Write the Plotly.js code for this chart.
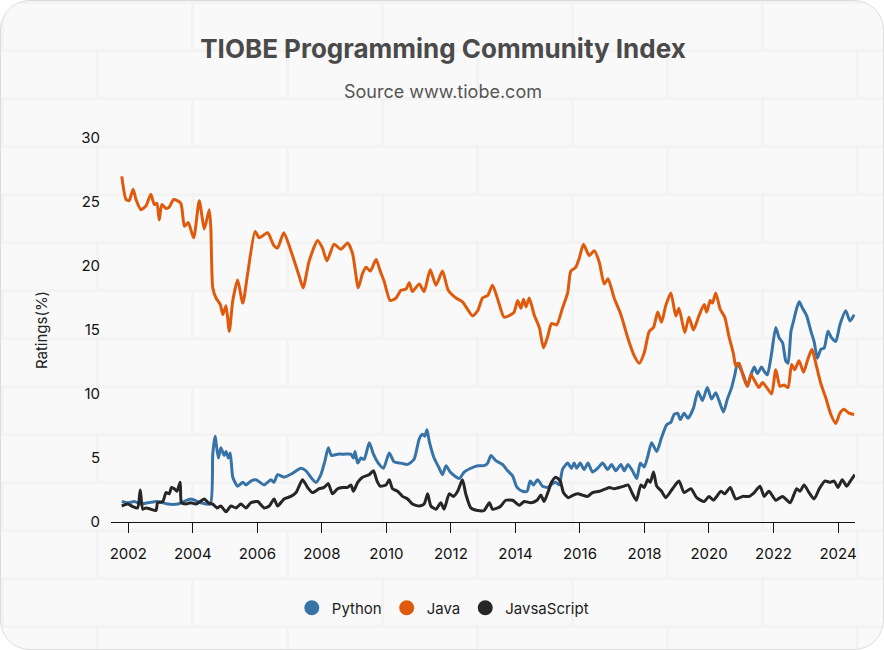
<!DOCTYPE html>
<html>
<head>
<meta charset="utf-8">
<script src="https://cdn.plot.ly/plotly-3.0.1.min.js"></script>
<style>
  html, body { margin: 0; padding: 0; background: #ffffff; }
  #card {
    position: absolute; left: 0; top: 0;
    width: 882px; height: 648px;
    border: 1px solid #dcdcdc;
    border-radius: 30px;
    overflow: hidden;
    background-color: #f9f9f9;
    background-image: url("data:image/svg+xml;utf8,<svg xmlns='http://www.w3.org/2000/svg' width='380' height='96'><g fill='none' stroke='%23f3f3f3' stroke-width='3'><path d='M0 1.5H380M0 49.5H380'/><path d='M1.5 0V48M191.5 0V48M96.5 48V96M286.5 48V96'/></g></svg>");
  }
  #graph { width: 884px; height: 650px; }
</style>
</head>
<body>
<div id="card"><div id="graph"></div></div>
<script>
// values, x as decimal years
var javaYears = [2001.80, 2001.93, 2002.03, 2002.15, 2002.24, 2002.39, 2002.55, 2002.70, 2002.81, 2002.89,
  2002.96, 2003.04, 2003.17, 2003.27, 2003.41, 2003.63, 2003.74, 2003.86, 2004.03, 2004.20,
  2004.36, 2004.51, 2004.56, 2004.62, 2004.72, 2004.85, 2004.93, 2005.03, 2005.13, 2005.24,
  2005.39, 2005.55, 2005.70, 2005.93, 2006.06, 2006.32, 2006.51, 2006.63, 2006.82, 2007.04,
  2007.30, 2007.42, 2007.61, 2007.87, 2008.02, 2008.16, 2008.38, 2008.59, 2008.80, 2008.95,
  2009.13, 2009.26, 2009.37, 2009.50, 2009.68, 2009.81, 2009.93, 2010.12, 2010.30, 2010.45,
  2010.61, 2010.71, 2010.81, 2011.02, 2011.17, 2011.36, 2011.54, 2011.74, 2011.92, 2012.16,
  2012.36, 2012.52, 2012.67, 2012.83, 2012.98, 2013.14, 2013.29, 2013.45, 2013.65, 2013.86,
  2013.96, 2014.07, 2014.17, 2014.25, 2014.33, 2014.43, 2014.58, 2014.74, 2014.87, 2015.00,
  2015.12, 2015.28, 2015.46, 2015.62, 2015.72, 2015.87, 2015.98, 2016.11, 2016.29, 2016.44,
  2016.60, 2016.75, 2016.87, 2017.06, 2017.27, 2017.48, 2017.68, 2017.84, 2017.99, 2018.15,
  2018.28, 2018.41, 2018.53, 2018.66, 2018.82, 2018.97, 2019.07, 2019.25, 2019.38, 2019.52,
  2019.69, 2019.85, 2019.93, 2020.04, 2020.11, 2020.21, 2020.35, 2020.49, 2020.62, 2020.76,
  2020.83, 2020.93, 2021.07, 2021.19, 2021.30, 2021.40, 2021.55, 2021.66, 2021.79, 2021.94,
  2022.07, 2022.20, 2022.33, 2022.45, 2022.56, 2022.66, 2022.79, 2022.93, 2023.05, 2023.19,
  2023.31, 2023.47, 2023.62, 2023.78, 2023.93, 2024.06, 2024.19, 2024.34, 2024.50];
var javaValues = [27.0, 25.2, 25.1, 26.0, 25.2, 24.4, 24.7, 25.6, 24.8, 24.9,
  23.6, 24.8, 24.5, 24.6, 25.2, 24.9, 23.1, 23.4, 22.2, 25.1,
  22.9, 24.4, 23.0, 18.3, 17.5, 17.0, 16.2, 16.9, 14.9, 17.3,
  18.9, 17.1, 19.4, 22.7, 22.2, 22.6, 21.6, 21.4, 22.6, 21.2,
  19.2, 18.3, 20.4, 22.0, 21.4, 20.4, 21.7, 21.3, 21.8, 21.0,
  18.3, 19.4, 19.9, 19.6, 20.5, 19.6, 18.8, 17.3, 17.5, 18.1,
  18.2, 18.7, 18.0, 18.6, 18.0, 19.7, 18.5, 19.6, 18.1, 17.5,
  17.2, 16.6, 16.1, 16.5, 17.5, 17.7, 18.5, 17.4, 16.0, 16.2,
  16.4, 17.3, 16.7, 17.4, 16.8, 17.5, 16.2, 15.2, 13.6, 14.5,
  15.5, 15.4, 16.7, 17.9, 19.6, 19.9, 20.6, 21.7, 20.8, 21.2,
  20.3, 18.6, 19.0, 17.5, 16.2, 14.4, 13.0, 12.4, 13.2, 14.9,
  15.2, 16.4, 15.6, 16.9, 17.9, 16.1, 16.7, 14.8, 16.0, 15.0,
  16.1, 17.0, 16.4, 17.3, 17.1, 17.9, 16.6, 16.0, 14.5, 13.1,
  12.2, 12.4, 11.3, 10.6, 11.5, 11.1, 10.5, 10.9, 10.5, 10.0,
  11.9, 10.6, 10.7, 10.5, 12.3, 11.9, 12.6, 11.7, 12.6, 13.5,
  12.4, 10.8, 9.7, 8.4, 7.7, 8.5, 8.8, 8.5, 8.4];

var pythonYears = [2001.80, 2001.98, 2002.19, 2002.39, 2002.60, 2002.91, 2003.22, 2003.53, 2003.94, 2004.25,
  2004.54, 2004.62, 2004.69, 2004.79, 2004.87, 2004.97, 2005.03, 2005.10, 2005.16, 2005.24,
  2005.39, 2005.55, 2005.65, 2005.80, 2005.96, 2006.21, 2006.42, 2006.52, 2006.63, 2006.83,
  2007.09, 2007.35, 2007.51, 2007.66, 2007.82, 2007.97, 2008.10, 2008.20, 2008.30, 2008.49,
  2008.69, 2008.90, 2008.98, 2009.03, 2009.11, 2009.21, 2009.31, 2009.47, 2009.60, 2009.75,
  2009.91, 2010.09, 2010.24, 2010.45, 2010.66, 2010.86, 2011.02, 2011.12, 2011.19, 2011.26,
  2011.33, 2011.48, 2011.64, 2011.74, 2011.85, 2011.98, 2012.12, 2012.26, 2012.41, 2012.62,
  2012.83, 2013.03, 2013.14, 2013.24, 2013.39, 2013.60, 2013.76, 2013.91, 2014.05, 2014.22,
  2014.36, 2014.46, 2014.56, 2014.69, 2014.84, 2015.00, 2015.10, 2015.25, 2015.36, 2015.46,
  2015.62, 2015.74, 2015.82, 2015.90, 2016.01, 2016.13, 2016.25, 2016.39, 2016.55, 2016.70,
  2016.86, 2016.98, 2017.11, 2017.27, 2017.37, 2017.49, 2017.63, 2017.76, 2017.87, 2017.99,
  2018.10, 2018.22, 2018.38, 2018.53, 2018.69, 2018.82, 2018.92, 2019.03, 2019.11, 2019.23,
  2019.35, 2019.52, 2019.66, 2019.80, 2019.95, 2020.08, 2020.21, 2020.31, 2020.45, 2020.57,
  2020.70, 2020.80, 2020.88, 2020.99, 2021.09, 2021.19, 2021.30, 2021.40, 2021.50, 2021.63,
  2021.73, 2021.81, 2021.94, 2022.07, 2022.17, 2022.28, 2022.38, 2022.45, 2022.54, 2022.62,
  2022.72, 2022.80, 2022.90, 2023.03, 2023.16, 2023.26, 2023.36, 2023.47, 2023.57, 2023.69,
  2023.80, 2023.93, 2024.06, 2024.24, 2024.37, 2024.50];
var pythonValues = [1.6, 1.5, 1.6, 1.4, 1.5, 1.6, 1.4, 1.4, 1.8, 1.5,
  1.4, 5.3, 6.7, 5.0, 5.8, 5.2, 5.5, 5.0, 5.4, 3.5,
  2.8, 3.1, 2.9, 3.2, 3.3, 2.9, 3.3, 3.1, 3.7, 3.5,
  3.8, 4.2, 4.0, 3.5, 3.1, 3.7, 4.8, 5.8, 5.2, 5.3,
  5.3, 5.3, 5.0, 5.5, 4.6, 5.0, 4.9, 6.2, 5.3, 4.6,
  4.2, 5.4, 4.7, 4.6, 4.5, 4.9, 6.5, 6.85, 6.7, 7.2,
  6.3, 5.0, 4.2, 3.7, 4.4, 3.9, 3.6, 3.4, 3.9, 4.2,
  4.4, 4.4, 4.6, 5.2, 4.8, 4.5, 4.0, 3.6, 2.7, 2.4,
  2.4, 3.2, 2.9, 3.3, 2.8, 2.7, 2.9, 3.1, 2.9, 4.1,
  4.6, 4.2, 4.6, 4.2, 4.6, 4.1, 4.6, 3.9, 4.2, 4.6,
  4.1, 4.5, 4.0, 4.5, 4.0, 4.5, 4.0, 3.4, 4.6, 4.3,
  5.1, 6.2, 5.5, 6.6, 7.6, 7.8, 8.4, 8.5, 8.0, 8.5,
  8.1, 8.9, 10.2, 9.5, 10.5, 9.6, 10.1, 9.5, 8.6, 9.6,
  10.5, 11.5, 12.4, 11.9, 11.3, 10.6, 11.5, 12.1, 11.6, 12.1,
  11.7, 11.5, 13.2, 15.2, 14.4, 14.0, 12.6, 12.4, 14.9, 15.7,
  16.7, 17.2, 16.7, 16.1, 14.9, 14.1, 12.8, 13.5, 13.6, 14.9,
  14.4, 14.1, 15.4, 16.5, 15.7, 16.2];

var jsYears = [2001.80, 2001.98, 2002.14, 2002.29, 2002.37, 2002.45, 2002.55, 2002.70, 2002.86, 2002.91,
  2003.07, 2003.17, 2003.27, 2003.34, 2003.43, 2003.51, 2003.61, 2003.65, 2003.79, 2003.94,
  2004.10, 2004.23, 2004.36, 2004.48, 2004.62, 2004.75, 2004.87, 2005.03, 2005.18, 2005.34,
  2005.49, 2005.65, 2005.80, 2006.01, 2006.21, 2006.37, 2006.52, 2006.63, 2006.83, 2007.04,
  2007.20, 2007.40, 2007.56, 2007.71, 2007.92, 2008.07, 2008.20, 2008.33, 2008.49, 2008.64,
  2008.80, 2008.90, 2008.98, 2009.11, 2009.26, 2009.47, 2009.60, 2009.71, 2009.81, 2009.99,
  2010.09, 2010.19, 2010.35, 2010.50, 2010.66, 2010.81, 2011.02, 2011.17, 2011.28, 2011.38,
  2011.54, 2011.69, 2011.79, 2011.95, 2012.08, 2012.21, 2012.36, 2012.46, 2012.62, 2012.83,
  2013.03, 2013.19, 2013.29, 2013.45, 2013.55, 2013.70, 2013.91, 2014.12, 2014.27, 2014.48,
  2014.67, 2014.79, 2014.89, 2015.02, 2015.12, 2015.25, 2015.39, 2015.49, 2015.64, 2015.80,
  2015.94, 2016.08, 2016.24, 2016.39, 2016.60, 2016.81, 2016.91, 2017.06, 2017.22, 2017.37,
  2017.49, 2017.63, 2017.75, 2017.89, 2017.99, 2018.10, 2018.18, 2018.28, 2018.38, 2018.53,
  2018.66, 2018.87, 2019.07, 2019.23, 2019.44, 2019.62, 2019.85, 2020.00, 2020.14, 2020.37,
  2020.49, 2020.66, 2020.83, 2021.04, 2021.24, 2021.40, 2021.58, 2021.71, 2021.86, 2022.07,
  2022.28, 2022.51, 2022.72, 2022.82, 2022.95, 2023.10, 2023.26, 2023.42, 2023.59, 2023.76,
  2023.88, 2024.00, 2024.13, 2024.27, 2024.38, 2024.52];
var jsValues = [1.25, 1.4, 1.2, 1.1, 2.5, 1.0, 1.1, 1.0, 0.9, 1.5,
  1.6, 2.3, 2.2, 2.7, 2.6, 2.4, 3.1, 1.5, 1.4, 1.5,
  1.4, 1.6, 1.8, 1.5, 1.4, 1.1, 1.25, 0.8, 1.25, 1.1,
  1.4, 1.1, 1.5, 1.6, 1.1, 1.25, 1.8, 1.25, 1.8, 2.0,
  2.3, 3.3, 2.7, 2.3, 2.6, 2.7, 3.0, 2.2, 2.6, 2.7,
  2.7, 2.9, 2.4, 3.1, 3.5, 3.7, 4.0, 3.2, 2.8, 2.9,
  3.3, 2.6, 2.4, 2.0, 1.8, 1.4, 1.25, 1.4, 2.2, 1.25,
  1.0, 1.5, 1.0, 2.2, 2.0, 2.4, 3.3, 2.2, 1.1, 0.9,
  0.9, 1.5, 1.0, 1.1, 1.25, 1.7, 1.7, 1.3, 1.6, 1.5,
  1.7, 2.1, 1.6, 2.4, 3.1, 3.5, 3.2, 2.3, 1.9, 2.1,
  2.2, 2.1, 2.0, 2.3, 2.4, 2.6, 2.7, 2.6, 2.7, 2.8,
  2.9, 2.2, 1.7, 2.9, 2.7, 3.3, 3.1, 3.9, 2.8, 2.4,
  1.9, 2.6, 3.2, 2.3, 2.6, 1.9, 1.6, 2.0, 1.7, 2.4,
  2.2, 2.7, 1.8, 2.0, 2.0, 2.3, 2.8, 2.0, 2.4, 1.7,
  2.0, 1.5, 2.6, 2.4, 2.9, 2.3, 1.8, 2.6, 3.2, 3.1,
  3.2, 2.7, 3.3, 2.8, 3.2, 3.7];

var seriesNames = ['Python', 'Java', 'JavsaScript'];
var seriesColors = ['#3873a8', '#e05a0c', '#262626'];

function toDate(d) {
  var y = Math.floor(d);
  var start = Date.UTC(y, 0, 1);
  var len = Date.UTC(y + 1, 0, 1) - start;
  return new Date(start + (d - y) * len).toISOString().slice(0, 10);
}

var xs = [pythonYears, javaYears, jsYears];
var ys = [pythonValues, javaValues, jsValues];

var data = [];
for (var i = 0; i < 3; i++) {
  data.push({
    x: xs[i].map(toDate),
    y: ys[i],
    type: 'scatter',
    mode: 'lines',
    name: seriesNames[i],
    showlegend: false,
    line: {color: seriesColors[i], width: 3, shape: 'spline', smoothing: 0.6}
  });
}
// legend entries drawn as round dots
for (var j = 0; j < 3; j++) {
  data.push({
    x: [null], y: [null],
    type: 'scatter',
    mode: 'markers',
    name: seriesNames[j],
    marker: {color: seriesColors[j], size: 15, symbol: 'circle'}
  });
}

var font = 'Inter, "Open Sans", sans-serif';

var layout = {
  width: 884,
  height: 650,
  paper_bgcolor: 'rgba(0,0,0,0)',
  plot_bgcolor: 'rgba(0,0,0,0)',
  margin: {l: 110, r: 30, t: 137, b: 129},
  font: {family: font, color: '#222', size: 14},
  title: {
    text: '<b>TIOBE Programming Community Index</b>',
    x: 0.5, xref: 'container', xanchor: 'center',
    y: 0.926, yanchor: 'middle',
    font: {family: font, size: 26, color: '#4a4a4a'}
  },
  annotations: [{
    text: 'Source www.tiobe.com',
    xref: 'paper', yref: 'paper', x: 0.446, y: 1.12,
    xanchor: 'center', yanchor: 'middle', showarrow: false,
    font: {family: font, size: 18, color: '#555'}
  }],
  xaxis: {
    type: 'date',
    range: ['2001-06-19', '2024-07-11'],
    tick0: '2002-01-01',
    dtick: 'M24',
    tickformat: '%Y',
    ticks: 'outside',
    ticklen: 10,
    tickcolor: '#111',
    ticklabelstandoff: 8,
    showline: true,
    linecolor: '#111',
    linewidth: 1,
    showgrid: false,
    zeroline: false,
    tickfont: {family: font, size: 15, color: '#111'}
  },
  yaxis: {
    range: [0, 30],
    dtick: 5,
    showgrid: false,
    zeroline: false,
    showline: false,
    ticklabelstandoff: 10,
    tickfont: {family: font, size: 15, color: '#111'},
    title: {text: 'Ratings(%)', standoff: 30, font: {family: font, size: 15, color: '#222'}}
  },
  legend: {
    orientation: 'h',
    x: 0.446, xanchor: 'center',
    y: -0.224, yanchor: 'middle',
    font: {family: font, size: 15, color: '#222'},
    itemwidth: 30,
    bgcolor: 'rgba(0,0,0,0)'
  }
};

Plotly.newPlot('graph', data, layout, {displayModeBar: false, staticPlot: true});
</script>
</body>
</html>
